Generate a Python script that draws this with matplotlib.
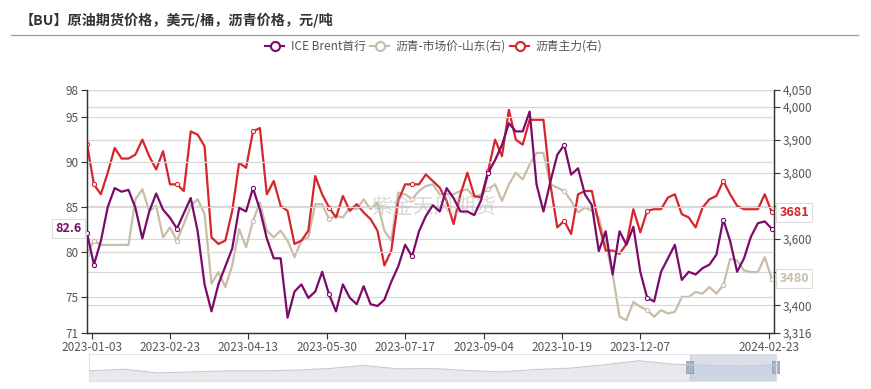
import numpy as np
import matplotlib.pyplot as plt
from matplotlib.lines import Line2D
from matplotlib.patches import Rectangle, FancyBboxPatch

plt.rcParams['font.family'] = ['Noto Sans CJK SC', 'DejaVu Sans']

### one sample every 3rd trading day, 2022-12-29 .. 2024-02-23
day_idx = np.arange(0, 298, 3)

# ICE Brent 首行, USD/bbl (left axis)
brent = [82.1, 78.6, 81.2, 85.0, 87.1, 86.7, 86.9, 84.9, 81.5, 84.5, 86.5, 84.7, 83.8,
         82.6, 84.3, 86.0, 82.3, 76.4, 73.4, 76.4, 78.4, 80.4, 84.9, 84.5, 87.1, 84.7,
         81.5, 79.3, 79.3, 72.7, 75.6, 76.4, 74.9, 75.6, 77.8, 75.3, 73.4, 76.4, 74.9,
         74.2, 76.2, 74.2, 74.0, 74.7, 76.7, 78.4, 80.8, 79.5, 82.3, 84.0,
         85.2, 84.5, 87.1, 86.0, 84.5, 84.5, 84.1, 85.8, 88.8, 90.2, 91.9, 94.3, 93.4,
         93.4, 95.6, 87.5, 84.5, 87.8, 90.8, 91.9, 88.6, 89.3, 86.4, 85.2, 80.1,
         82.3, 77.5, 82.3, 80.8, 82.8, 77.8, 74.9, 74.5, 77.8, 79.3, 80.8, 76.9, 77.8,
         77.5, 78.2, 78.6, 79.7, 83.6, 81.2, 77.8, 79.3, 81.7, 83.2, 83.4, 82.6]

# 沥青-市场价-山东, CNY/t (right axis)
bu_sd = [3555, 3595, 3582, 3582, 3582, 3582, 3582, 3720, 3750, 3685, 3700, 3605, 3635,
         3595, 3645, 3700, 3720, 3675, 3465, 3500, 3455, 3520, 3630, 3575, 3655, 3710,
         3625, 3605, 3625, 3595, 3545, 3595, 3605, 3705, 3705, 3660, 3670, 3665, 3695,
         3690, 3720, 3690, 3710, 3625, 3595, 3740, 3735, 3720, 3745, 3760,
         3765, 3735, 3735, 3735, 3745, 3750, 3725, 3735, 3750, 3765, 3715, 3765, 3800,
         3780, 3825, 3860, 3860, 3765, 3755, 3745, 3715, 3680, 3695, 3685, 3665,
         3585, 3495, 3365, 3355, 3410, 3395, 3385, 3365, 3385, 3375, 3380, 3425, 3425,
         3440, 3435, 3455, 3435, 3460, 3540, 3535, 3505, 3500, 3500, 3545, 3480]

# 沥青主力, CNY/t (right axis)
bu_main = [3887, 3765, 3735, 3800, 3875, 3843, 3843, 3855, 3900, 3850, 3810, 3865, 3765,
           3765, 3745, 3925, 3915, 3880, 3605, 3585, 3595, 3685, 3830, 3815, 3925, 3935,
           3735, 3775, 3700, 3685, 3585, 3595, 3625, 3790, 3735, 3695, 3665, 3730, 3685,
           3705, 3680, 3660, 3625, 3520, 3565, 3715, 3765, 3765, 3765, 3795,
           3775, 3755, 3715, 3645, 3735, 3800, 3730, 3725, 3805, 3900, 3850, 3990, 3900,
           3885, 3960, 3960, 3960, 3765, 3635, 3655, 3615, 3735, 3745, 3745, 3645,
           3565, 3565, 3555, 3585, 3690, 3620, 3685, 3690, 3690, 3725, 3735, 3675, 3665,
           3635, 3695, 3720, 3730, 3775, 3735, 3700, 3690, 3690, 3690, 3735, 3681]

tick_days = [2, 36, 70, 104, 138, 172, 206, 240, 296]
tick_labels = ['2023-01-03', '2023-02-23', '2023-04-13', '2023-05-30', '2023-07-17',
               '2023-09-04', '2023-10-19', '2023-12-07', '2024-02-23']

left_ticks = [71, 75, 80, 85, 90, 95, 98]
right_ticks = [3316, 3400, 3500, 3600, 3700, 3800, 3900, 4000, 4050]
right_hidden = [3500, 3700]   # labels sit under the last-value badges

# whole-history overview shown in the zoom slider (relative level)
overview = [30, 35, 24, 27, 30, 30, 32, 37, 46, 36, 37, 31, 27, 34, 38, 48, 60, 50, 46, 44, 47]

c_brent = '#7b0b68'
c_sd = '#c9bca8'
c_main = '#d5262c'
mark_at = [0, 1, 13, 24, 35, 47, 58, 69, 81, 92, 99]

W, H = 871, 389
fig = plt.figure(figsize=(W / 100, H / 100), dpi=100)

### title + rule
fig.text(20 / W, 1 - 20 / H, '【BU】原油期货价格，美元/桶，沥青价格，元/吨', fontsize=10.2,
         fontweight='bold', color='#333333', va='center', ha='left')
fig.add_artist(Line2D([11 / W, 858 / W], [1 - 35 / H, 1 - 35 / H], color='#9a9a9a', lw=0.9))

### legend drawn by hand
for x0, col, lab in [(265, c_brent, 'ICE Brent首行'), (370, c_sd, '沥青-市场价-山东(右)'),
                     (510, c_main, '沥青主力(右)')]:
    yy = 1 - 46 / H
    fig.add_artist(Line2D([x0 / W, (x0 + 19) / W], [yy, yy], color=col, lw=1.5))
    fig.add_artist(Line2D([(x0 + 9.5) / W], [yy], color=col, marker='o', ms=6.5,
                          mfc='white', mew=1.5))
    fig.text((x0 + 26) / W, yy, lab, fontsize=8.5, color='#555555', va='center', ha='left')

### main chart
ax = fig.add_axes([87 / W, 1 - 333 / H, 687 / W, 243 / H])
ax2 = ax.twinx()

ax.set_xlim(0, 298)
ax.set_ylim(71, 98)
ax2.set_ylim(3316, 4050)

for v in left_ticks[1:]:
    ax.axhline(v, color='#d8d8d8', lw=0.9, zorder=0)
for v in right_ticks[1:]:
    ax2.axhline(v, color='#d8d8d8', lw=0.9, zorder=0)

ax2.plot(day_idx, bu_sd, color=c_sd, lw=1.6, marker='o', markevery=mark_at, ms=3,
         mfc='white', mew=0.8, zorder=3)
ax2.plot(day_idx, bu_main, color=c_main, lw=1.6, marker='o', markevery=mark_at, ms=3,
         mfc='white', mew=0.8, zorder=4)
ax.plot(day_idx, brent, color=c_brent, lw=1.6, marker='o', markevery=mark_at, ms=3,
        mfc='white', mew=0.8, zorder=3)
ax.set_zorder(ax2.get_zorder() + 1)
ax.patch.set_visible(False)

ax.set_xticks(tick_days)
ax.set_xticklabels(tick_labels)
ax.set_yticks(left_ticks)
ax.set_yticklabels([str(v) for v in left_ticks])
ax2.set_yticks(right_ticks)
ax2.set_yticklabels(['' if v in right_hidden else '{:,}'.format(v) for v in right_ticks])

for a in (ax, ax2):
    a.tick_params(labelsize=8.5, colors='#333333', labelcolor='#555555', length=4,
                  width=0.8, pad=2)
    for s in a.spines.values():
        s.set_color('#333333')
        s.set_linewidth(0.9)
    a.spines['top'].set_visible(False)

### watermark
ax.text(0.505, 0.52, '紫金天风期货', transform=ax.transAxes, fontsize=15, color='#bbbbbb',
        alpha=0.55, ha='center', va='center', zorder=1)

### last-value badges
box = dict(boxstyle='square,pad=0.25', fc='white', ec='#dddddd', lw=0.8)
ax2.text(1.008, bu_main[-1], str(bu_main[-1]), transform=ax2.get_yaxis_transform(),
         color=c_main, fontsize=9, fontweight='bold', ha='left', va='center', bbox=box,
         zorder=10, clip_on=False)
ax2.text(1.008, bu_sd[-1], str(bu_sd[-1]), transform=ax2.get_yaxis_transform(),
         color=c_sd, fontsize=9, fontweight='bold', ha='left', va='center', bbox=box,
         zorder=10, clip_on=False)
ax.text(-0.008, brent[-1], str(brent[-1]), transform=ax.get_yaxis_transform(),
        color=c_brent, fontsize=9, fontweight='bold', ha='right', va='center', bbox=box,
        zorder=10, clip_on=False)

### zoom slider
axs = fig.add_axes([89 / W, 1 - 381 / H, 687 / W, 27 / H])
ov_x = np.linspace(0, 1, len(overview))
axs.fill_between(ov_x, 0, overview, color='#e8e9ec', lw=0)
axs.plot(ov_x, overview, color='#c8cacf', lw=0.8)
axs.set_xlim(0, 1)
axs.set_ylim(0, 80)
axs.set_xticks([])
axs.set_yticks([])
for s in axs.spines.values():
    s.set_color('#dfe2e8')
    s.set_linewidth(0.8)
axs.add_patch(Rectangle((0.875, 0), 0.125, 80, fc='#b8c6da', alpha=0.55, ec='#a9b7cc', lw=0.8))
for hx in (0.875, 1.0):
    axs.add_patch(FancyBboxPatch((hx - 0.005, 22), 0.01, 36, boxstyle='round,pad=0,rounding_size=0.002',
                                 fc='#a7b4c8', ec='#8e9db4', lw=0.6, clip_on=False))

fig.savefig('out.png', dpi=100, facecolor='white')
